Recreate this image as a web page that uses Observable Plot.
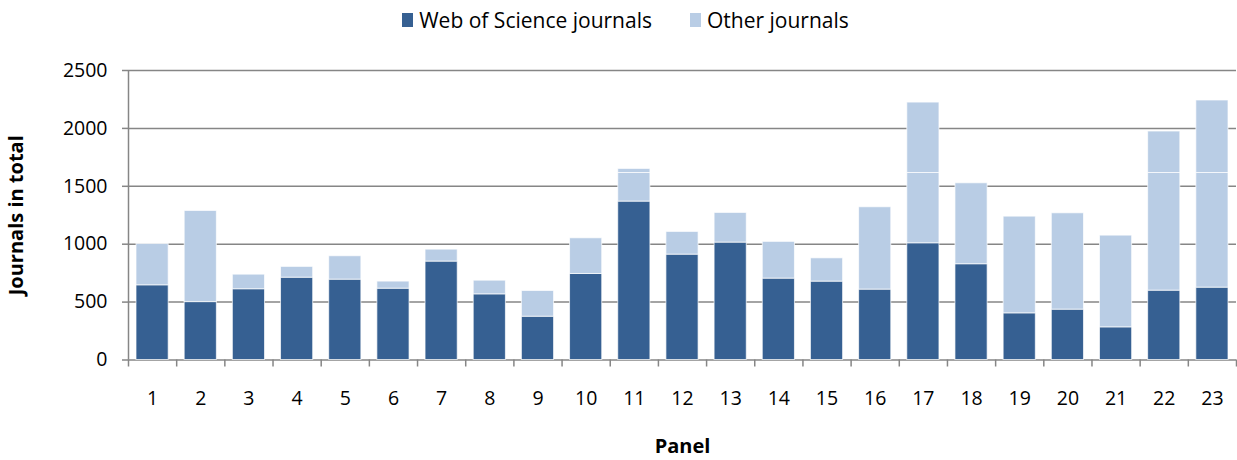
<!DOCTYPE html>
<html>
<head>
<meta charset="utf-8">
<script src="https://cdn.jsdelivr.net/npm/d3@7"></script>
<script src="https://cdn.jsdelivr.net/npm/@observablehq/plot@0.6"></script>
<style>
  html, body { margin: 0; padding: 0; background: #fff; }
  body { width: 1237px; height: 460px; overflow: hidden; font-family: "Open Sans", sans-serif; }
  #legend { height: 40px; display: flex; align-items: center; justify-content: center; font-size: 21px; color: #000; padding-left: 14px; }
  .item { display: flex; align-items: center; margin: 0 19px; }
  .sw { width: 11px; height: 14px; margin-right: 6px; }
  svg { display: block; }
</style>
</head>
<body>
<div id="legend"></div>
<div id="chart"></div>
<script>
const panels = [1,2,3,4,5,6,7,8,9,10,11,12,13,14,15,16,17,18,19,20,21,22,23];
const wosJournals = [645,500,611,711,694,616,850,567,374,743,1368,910,1014,703,677,608,1008,827,403,435,282,599,625];
// light segments (Other journals); some bars show a second light segment above ~1615
const otherLower = [357,787,126,93,202,61,103,118,222,308,247,196,256,317,201,711,607,699,835,832,792,1016,990];
const otherUpper = [0,0,0,0,0,0,0,0,0,0,35,0,0,0,0,0,608,0,0,0,0,358,626];
const yTicks = [0,500,1000,1500,2000,2500];
const seriesNames = ["Web of Science journals", "Other journals"];
const colors = ["#366092", "#b9cde5"];

const rows = [];
panels.forEach((p, i) => {
  rows.push({panel: p, series: seriesNames[0], part: 0, value: wosJournals[i]});
  rows.push({panel: p, series: seriesNames[1], part: 1, value: otherLower[i]});
  if (otherUpper[i] > 0) rows.push({panel: p, series: seriesNames[1], part: 2, value: otherUpper[i]});
});

const legend = document.getElementById("legend");
seriesNames.forEach((s, i) => {
  const it = document.createElement("div");
  it.className = "item";
  it.innerHTML = `<span class="sw" style="background:${colors[i]}"></span><span>${s}</span>`;
  legend.appendChild(it);
});

const grid = "#868686";
const chart = Plot.plot({
  width: 1237,
  height: 420,
  marginTop: 30,
  marginBottom: 100.5,
  marginLeft: 128,
  marginRight: 1,
  style: {fontFamily: "'Open Sans', sans-serif", fontSize: "19.5px", color: "#000", background: "#fff"},
  x: {domain: [0.5, 23.5]},
  y: {domain: [0, 2500]},
  color: {domain: seriesNames, range: colors},
  marks: [
    Plot.ruleY(yTicks, {stroke: grid, strokeWidth: 1.5}),
    Plot.rectY(rows, Plot.stackY({
      x1: d => d.panel - 0.5,
      x2: d => d.panel + 0.5,
      y: "value",
      z: "part",
      order: "part",
      fill: "series",
      insetLeft: 8,
      insetRight: 8,
      stroke: "#ffffff",
      strokeOpacity: 0.7,
      strokeWidth: 1
    })),
    Plot.ruleX([0.5], {stroke: grid, strokeWidth: 1.5}),
    Plot.axisY({ticks: yTicks, tickSize: 6, tickPadding: 15, tickFormat: d => String(d), stroke: grid, strokeWidth: 1.5,
      label: "Journals in total", labelAnchor: "center", labelArrow: "none", labelOffset: 120}),
    Plot.axisX({ticks: panels.concat([0]).map(v => v + 0.5), tickSize: 7, tickFormat: () => "", stroke: grid, strokeWidth: 1.5, label: null}),
    Plot.axisX({ticks: panels, tickSize: 0, tickPadding: 31, tickFormat: d => String(d),
      label: "Panel", labelAnchor: "center", labelArrow: "none", labelOffset: 93})
  ]
});
chart.querySelectorAll("g[aria-label='x-axis label'] text, g[aria-label='y-axis label'] text").forEach(t => {
  t.setAttribute("font-weight", "bold");
  t.setAttribute("font-size", "20px");
});
document.getElementById("chart").appendChild(chart);
</script>
</body>
</html>
